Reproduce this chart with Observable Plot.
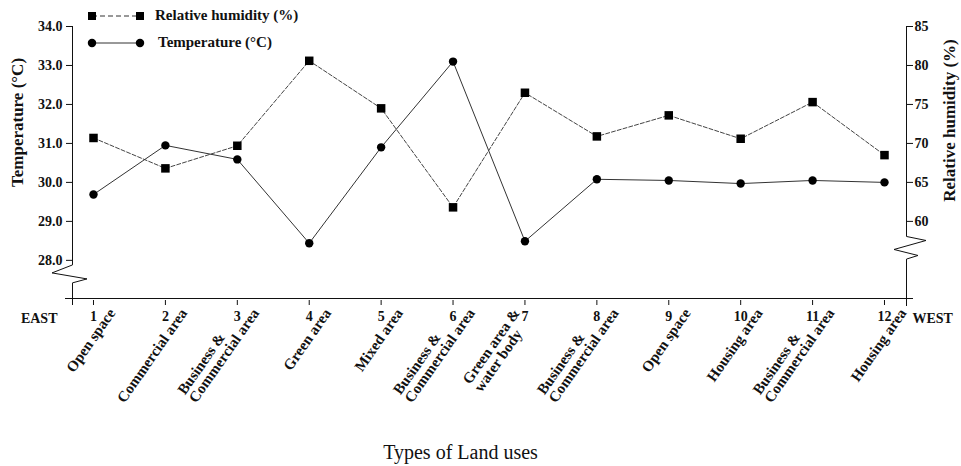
<!DOCTYPE html>
<html>
<head>
<meta charset="utf-8">
<script src="https://cdn.jsdelivr.net/npm/d3@7"></script>
<script src="https://cdn.jsdelivr.net/npm/@observablehq/plot@0.6"></script>
<style>
  body { margin: 0; background: #fff; }
</style>
</head>
<body>
<div id="chart"></div>
<script>
// ---------- data ----------
const sites = [1, 2, 3, 4, 5, 6, 7, 8, 9, 10, 11, 12];
const landUses = [
  "Open space",
  "Commercial area",
  "Business &\nCommercial area",
  "Green area",
  "Mixed area",
  "Business &\nCommercial area",
  "Green area &\nwater body",
  "Business &\nCommercial area",
  "Open space",
  "Housing area",
  "Business &\nCommercial area",
  "Housing area"
];
const temperature = [29.69, 30.95, 30.59, 28.44, 30.9, 33.1, 28.49, 30.08, 30.05, 29.97, 30.05, 30.0];
const humidity = [70.7, 66.8, 69.7, 80.6, 74.5, 61.8, 76.5, 70.9, 73.6, 70.6, 75.3, 68.5];
const tempTicks = [28, 29, 30, 31, 32, 33, 34];
const humTicks = [60, 65, 70, 75, 80, 85];
const leftBreak = [27.41, 27.87];   // temperature where left axis is broken
const rightBreak = [55.1, 58.0];    // humidity where right axis is broken

// secondary axis: humidity 60..85 mapped onto temperature 29..34
const hToT = h => h / 5 + 17;
const tToH = t => (t - 17) * 5;

const FONT = "'Liberation Serif', 'Times New Roman', serif";
const INK = "#111";

const rows = sites.map((s, i) => ({site: s, temp: temperature[i], humT: hToT(humidity[i])}));

// ---------- decorations drawn with the plot's scales ----------
function frameMark(index, scales, values, dims) {
  const {y} = scales;
  const L = dims.marginLeft, R = dims.width - dims.marginRight;
  const T = dims.marginTop, B = dims.height - dims.marginBottom;
  const g = d3.create("svg:g").attr("fill", "none").attr("stroke", INK).attr("stroke-width", 1);
  // bottom axis
  g.append("line").attr("x1", L - 7).attr("x2", R + 7).attr("y1", B - 1.5).attr("y2", B - 1.5);
  // left axis with break
  const l1 = y(leftBreak[1]), l0 = y(leftBreak[0]);
  g.append("path").attr("d",
    `M${L + 0.5},${T}V${l1}L${L - 20},${l1 + 8}L${L + 15},${l1 + 14}L${L + 0.5},${l0}V${B + 5}`);
  // right axis with break
  const rT = y(hToT(d3.max(humTicks)));
  const r1 = y(hToT(rightBreak[1])), r0 = y(hToT(rightBreak[0]));
  g.append("path").attr("d",
    `M${R + 0.5},${rT}V${r1}L${R + 20},${r1 + 4}L${R - 12},${r1 + 13}L${R + 12},${r1 + 19}L${R + 0.5},${r0}V${B + 6}`);

  // legend
  const lg = d3.create("svg:g").attr("text-anchor", "start");
  const rowsL = [
    {y: 16, dash: "5,3", sym: d3.symbolSquare, size: 64, text: "Relative humidity (%)", tx: 155},
    {y: 43, dash: null, sym: d3.symbolCircle, size: 56, text: "Temperature (°C)", tx: 158}
  ];
  for (const r of rowsL) {
    lg.append("line").attr("x1", 92).attr("x2", 140).attr("y1", r.y).attr("y2", r.y)
      .attr("stroke", "#333").attr("stroke-width", 1).attr("stroke-dasharray", r.dash);
    for (const cx of [92, 140]) {
      lg.append("path").attr("d", d3.symbol(r.sym, r.size)()).attr("transform", `translate(${cx},${r.y})`).attr("fill", "#000");
    }
    lg.append("text").attr("x", r.tx).attr("y", r.y + 4)
      .attr("font-family", FONT).attr("font-weight", "bold").attr("font-size", 15).attr("fill", INK)
      .text(r.text);
  }
  const outer = d3.create("svg:g");
  outer.append(() => g.node());
  outer.append(() => lg.node());
  return outer.node();
}

const measure = document.createElement("canvas").getContext("2d");
const LABEL_SIZE = 15, LABEL_LH = 14, LABEL_ANGLE = -55;
measure.font = `bold ${LABEL_SIZE}px ${FONT}`;

function categoryLabels(index, scales, values, dims) {
  const {x} = scales;
  const B = dims.height - dims.marginBottom;
  const g = d3.create("svg:g").attr("font-family", FONT).attr("font-weight", "bold")
    .attr("font-size", LABEL_SIZE).attr("fill", INK).attr("text-anchor", "start");
  sites.forEach((s, i) => {
    const lines = landUses[i].split("\n");
    const widths = lines.map(t => measure.measureText(t).width);
    const k = widths.indexOf(d3.max(widths));
    const dx = s === 7 ? -4 : 23;
    const t = g.append("g").attr("transform", `translate(${x(s) + dx},${B + 13}) rotate(${LABEL_ANGLE})`);
    lines.forEach((line, j) => {
      t.append("text").attr("x", -widths[k]).attr("y", (j - k) * LABEL_LH).text(line);
    });
  });
  return g.node();
}

// ---------- chart ----------
const chart = Plot.plot({
  width: 961,
  height: 466,
  marginLeft: 72,
  marginRight: 55,
  marginTop: 26,
  marginBottom: 166,
  style: {fontFamily: FONT, fontSize: "14px", fontWeight: "bold", color: INK, background: "#fff"},
  x: {domain: [0.708, 12.306]},
  y: {domain: [26.97, 34]},
  marks: [
    Plot.axisY({ticks: tempTicks, tickFormat: d => d.toFixed(1), anchor: "left", tickSize: 6, tickPadding: 4, label: null, fontSize: 14, fontWeight: "bold"}),
    Plot.axisY({ticks: humTicks.map(hToT), tickFormat: t => String(Math.round(tToH(t))), anchor: "right", tickSize: 6, tickPadding: 2, label: null, fontSize: 14, fontWeight: "bold"}),
    Plot.axisX({ticks: sites, tickFormat: d => String(d), anchor: "bottom", tickSize: 5, tickPadding: 6, label: null, fontSize: 14, fontWeight: "bold"}),
    frameMark,
    categoryLabels,
    Plot.line(rows, {x: "site", y: "humT", stroke: "#444", strokeWidth: 1, strokeDasharray: "4,2"}),
    Plot.line(rows, {x: "site", y: "temp", stroke: "#333", strokeWidth: 1}),
    Plot.dot(rows, {x: "site", y: "humT", symbol: "square", r: 4.8, fill: "#000", stroke: null}),
    Plot.dot(rows, {x: "site", y: "temp", symbol: "circle", r: 4.2, fill: "#000", stroke: null}),
    Plot.text(["EAST"], {frameAnchor: "bottom-left", dx: -15, dy: 18, textAnchor: "end", lineAnchor: "middle", fontSize: 14, fontWeight: "bold"}),
    Plot.text(["WEST"], {frameAnchor: "bottom-right", dx: 6, dy: 18, textAnchor: "start", lineAnchor: "middle", fontSize: 14, fontWeight: "bold"}),
    Plot.text(["Temperature (°C)"], {frameAnchor: "left", rotate: -90, dx: -55, dy: -41, textAnchor: "middle", lineAnchor: "middle", fontSize: 17, fontWeight: "bold"}),
    Plot.text(["Relative humidity (%)"], {frameAnchor: "right", rotate: -90, dx: 43, dy: -43, textAnchor: "middle", lineAnchor: "middle", fontSize: 17, fontWeight: "bold"}),
    Plot.text(["Types of Land uses"], {frameAnchor: "bottom", dx: -29, dy: 152, textAnchor: "middle", lineAnchor: "middle", fontSize: 20, fontWeight: "normal"})
  ]
});
document.getElementById("chart").appendChild(chart);
</script>
</body>
</html>
